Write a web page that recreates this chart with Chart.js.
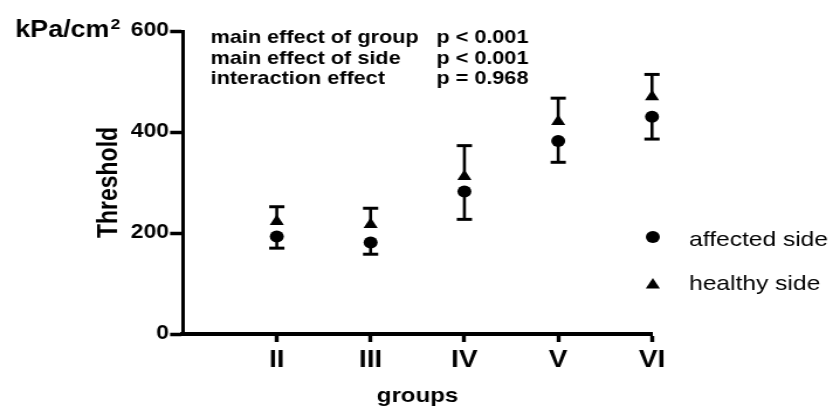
<!DOCTYPE html>
<html>
<head>
<meta charset="utf-8">
<script src="https://cdn.jsdelivr.net/npm/chart.js@4.4.0/dist/chart.umd.min.js"></script>
<style>
  html, body { margin: 0; padding: 0; background: #fff; }
  #chart { display: block; }
</style>
</head>
<body>
<!-- drawn at 712 px wide and shown at 833 px: the reference figure is stretched sideways -->
<canvas id="chart" width="712" height="412" style="width:833px;height:412px"></canvas>
<script>
// data
var groups = ['II', 'III', 'IV', 'V', 'VI'];
var groupX = [2, 3, 4, 5, 6];
var affectedMean = [193, 181, 282, 382, 430];
var affectedErr = [23, 23, 55, 42, 44];     // bar drawn downwards
var healthyMean = [223, 217, 312, 421, 470];
var healthyErr = [29, 32, 61, 46, 44];      // bar drawn upwards
var yTicks = [0, 200, 400, 600];

var stats = [
  ['main effect of group', 'p < 0.001'],
  ['main effect of side', 'p < 0.001'],
  ['interaction effect', 'p = 0.968']
];

Chart.defaults.font.family = '"Liberation Sans", Arial, sans-serif';
Chart.defaults.color = '#000';

function points(means) {
  return groupX.map(function(x, i) { return { x: x, y: means[i] }; });
}

// error bars: affected side goes down, healthy side goes up
const errorBars = {
  id: 'errorBars',
  beforeDatasetsDraw: (chart) => {
    const ctx = chart.ctx;
    const xs = chart.scales.x, ys = chart.scales.y;
    ctx.save();
    ctx.strokeStyle = '#000';
    groupX.forEach(function(gx, i) {
      var px = xs.getPixelForValue(gx);
      var bars = [
        [affectedMean[i], affectedMean[i] - affectedErr[i]],
        [healthyMean[i], healthyMean[i] + healthyErr[i]]
      ];
      bars.forEach(function(b) {
        var y0 = ys.getPixelForValue(b[0]);
        var y1 = ys.getPixelForValue(b[1]);
        ctx.lineWidth = 2.6;
        ctx.beginPath();
        ctx.moveTo(px, y0);
        ctx.lineTo(px, y1);
        ctx.stroke();
        ctx.lineWidth = 3;
        ctx.beginPath();
        ctx.moveTo(px - 6.5, y1);
        ctx.lineTo(px + 6.5, y1);
        ctx.stroke();
      });
    });
    ctx.restore();
  }
};

// unit label, statistics text and legend
const extras = {
  id: 'extras',
  afterDraw: (chart) => {
    const ctx = chart.ctx;
    ctx.save();
    ctx.fillStyle = '#000';
    ctx.textBaseline = 'alphabetic';
    ctx.textAlign = 'left';

    ctx.font = 'bold 23px "Liberation Sans", Arial, sans-serif';
    ctx.fillText('kPa/cm', 13, 37);
    var w = ctx.measureText('kPa/cm').width;
    ctx.font = 'bold 15px "Liberation Sans", Arial, sans-serif';
    ctx.fillText('2', 13 + w + 1, 29);

    ctx.font = 'bold 18.5px "Liberation Sans", Arial, sans-serif';
    stats.forEach(function(row, i) {
      ctx.fillText(row[0], 180, 43 + i * 20.5);
      ctx.fillText(row[1], 373, 43 + i * 20.5);
    });

    // legend
    ctx.beginPath();
    ctx.arc(558, 237, 6, 0, Math.PI * 2);
    ctx.fill();
    var r = 7, tx = 558, ty = 285;
    ctx.beginPath();
    ctx.moveTo(tx, ty - r);
    ctx.lineTo(tx + r * 0.866, ty + r * 0.5);
    ctx.lineTo(tx - r * 0.866, ty + r * 0.5);
    ctx.closePath();
    ctx.fill();
    ctx.font = '21px "Liberation Sans", Arial, sans-serif';
    ctx.fillText('affected side', 589, 246);
    ctx.fillText('healthy side', 589, 290);
    ctx.restore();
  }
};

const config = {
  type: 'scatter',
  data: {
    datasets: [{
      label: 'affected side',
      data: points(affectedMean),
      pointStyle: 'circle',
      pointRadius: 6,
      pointBackgroundColor: '#000',
      pointBorderWidth: 0,
      clip: false
    }, {
      label: 'healthy side',
      data: points(healthyMean),
      pointStyle: 'triangle',
      pointRadius: 7,
      pointBackgroundColor: '#000',
      pointBorderWidth: 0,
      clip: false
    }]
  },
  options: {
    responsive: false,
    devicePixelRatio: 1,
    animation: false,
    events: [],
    layout: { padding: { left: 0, right: 154.7, top: 31, bottom: 0 } },
    plugins: {
      legend: { display: false },
      tooltip: { enabled: false }
    },
    scales: {
      x: {
        type: 'linear',
        min: 1,
        max: 6,
        afterFit: (scale) => { scale.height = 78; },
        afterBuildTicks: (scale) => {
          scale.ticks = [1].concat(groupX).map(function(v) { return { value: v }; });
        },
        ticks: {
          font: { size: 24, weight: 'bold' },
          padding: 4,
          callback: function(v) {
            var i = groupX.indexOf(v);
            return i < 0 ? '' : groups[i];
          }
        },
        grid: {
          display: true,
          drawOnChartArea: false,
          drawTicks: true,
          tickLength: 8,
          tickWidth: 3.4,
          tickColor: (c) => (c.tick && c.tick.value === 1) ? 'rgba(0,0,0,0)' : '#000'
        },
        border: { display: true, width: 4, color: '#000' },
        title: {
          display: true,
          text: 'groups',
          font: { size: 20.5, weight: 'bold' },
          padding: { top: 0, bottom: 3 }
        }
      },
      y: {
        min: 0,
        max: 600,
        afterFit: (scale) => { scale.width = 156.4; },
        afterBuildTicks: (scale) => {
          scale.ticks = yTicks.map(function(v) { return { value: v }; });
        },
        ticks: {
          font: { size: 19.5, weight: 'bold' },
          padding: 1
        },
        grid: {
          display: true,
          drawOnChartArea: false,
          drawTicks: true,
          tickLength: 11,
          tickWidth: 3.5,
          tickColor: '#000'
        },
        border: { display: true, width: 3, color: '#000' },
        title: {
          display: true,
          text: 'Threshold',
          font: { size: 23, weight: 'bold', lineHeight: 1 },
          padding: { top: 82, bottom: 0 }
        }
      }
    }
  },
  plugins: [errorBars, extras]
};

const myChart = new Chart(document.getElementById('chart'), config);
</script>
</body>
</html>
